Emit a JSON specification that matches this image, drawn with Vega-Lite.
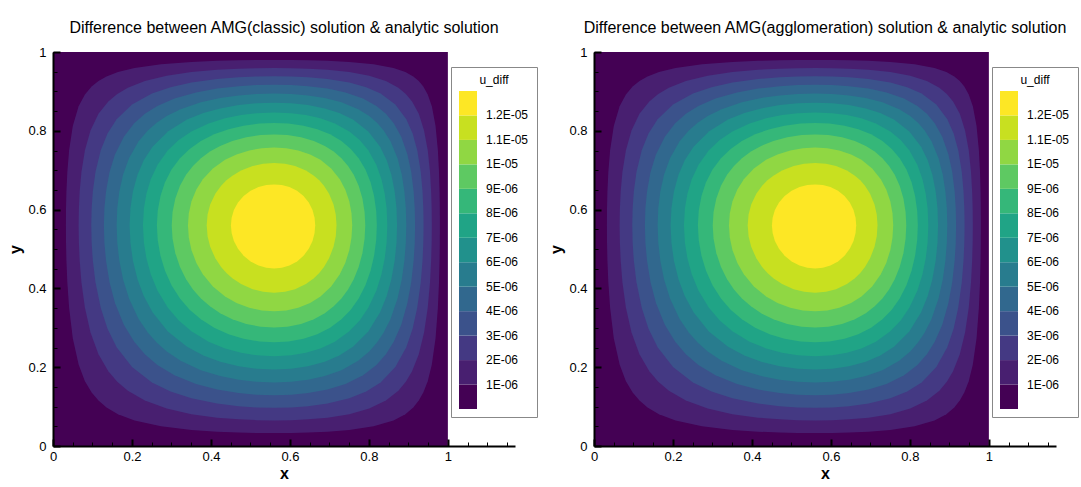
{
"$schema": "https://vega.github.io/schema/vega-lite/v6.json",
"background": "white",
"padding": {"left": 7, "top": 20, "right": 5, "bottom": 5},
"config": {"font": "Liberation Sans", "view": {"stroke": null}},
"datasets": {"field": [
{"u":0,"x":0,"lo":0,"hi":1},{"u":0,"x":1,"lo":0,"hi":1},
{"u":1e-6,"x":0.0327,"lo":0.56,"hi":0.56},{"u":1e-6,"x":0.0330,"lo":0.5158,"hi":0.6033},{"u":1e-6,"x":0.0340,"lo":0.4703,"hi":0.6460},{"u":1e-6,"x":0.0363,"lo":0.4156,"hi":0.6952},{"u":1e-6,"x":0.0408,"lo":0.3506,"hi":0.7504},{"u":1e-6,"x":0.0501,"lo":0.2736,"hi":0.8119},{"u":1e-6,"x":0.0649,"lo":0.2066,"hi":0.8623},{"u":1e-6,"x":0.0809,"lo":0.1645,"hi":0.8924},{"u":1e-6,"x":0.0979,"lo":0.1356,"hi":0.9124},{"u":1e-6,"x":0.1152,"lo":0.1152,"hi":0.9263},{"u":1e-6,"x":0.1356,"lo":0.0979,"hi":0.9378},{"u":1e-6,"x":0.1645,"lo":0.0809,"hi":0.9490},{"u":1e-6,"x":0.2066,"lo":0.0649,"hi":0.9594},{"u":1e-6,"x":0.2736,"lo":0.0501,"hi":0.9688},{"u":1e-6,"x":0.3506,"lo":0.0408,"hi":0.9747},{"u":1e-6,"x":0.4156,"lo":0.0363,"hi":0.9776},{"u":1e-6,"x":0.4703,"lo":0.0340,"hi":0.9790},{"u":1e-6,"x":0.5158,"lo":0.0330,"hi":0.9796},{"u":1e-6,"x":0.56,"lo":0.0327,"hi":0.9798},{"u":1e-6,"x":0.6033,"lo":0.0330,"hi":0.9796},{"u":1e-6,"x":0.6460,"lo":0.0340,"hi":0.9790},{"u":1e-6,"x":0.6952,"lo":0.0363,"hi":0.9776},{"u":1e-6,"x":0.7504,"lo":0.0408,"hi":0.9747},{"u":1e-6,"x":0.8119,"lo":0.0501,"hi":0.9688},{"u":1e-6,"x":0.8623,"lo":0.0649,"hi":0.9594},{"u":1e-6,"x":0.8924,"lo":0.0809,"hi":0.9490},{"u":1e-6,"x":0.9124,"lo":0.0979,"hi":0.9378},{"u":1e-6,"x":0.9263,"lo":0.1152,"hi":0.9263},{"u":1e-6,"x":0.9378,"lo":0.1356,"hi":0.9124},{"u":1e-6,"x":0.9490,"lo":0.1645,"hi":0.8924},{"u":1e-6,"x":0.9594,"lo":0.2066,"hi":0.8623},{"u":1e-6,"x":0.9688,"lo":0.2736,"hi":0.8119},{"u":1e-6,"x":0.9747,"lo":0.3506,"hi":0.7504},{"u":1e-6,"x":0.9776,"lo":0.4156,"hi":0.6952},{"u":1e-6,"x":0.9790,"lo":0.4703,"hi":0.6460},{"u":1e-6,"x":0.9796,"lo":0.5158,"hi":0.6033},{"u":1e-6,"x":0.9798,"lo":0.56,"hi":0.56},
{"u":2e-6,"x":0.0649,"lo":0.56,"hi":0.56},{"u":2e-6,"x":0.0656,"lo":0.5158,"hi":0.6033},{"u":2e-6,"x":0.0676,"lo":0.4703,"hi":0.6460},{"u":2e-6,"x":0.0720,"lo":0.4156,"hi":0.6952},{"u":2e-6,"x":0.0809,"lo":0.3506,"hi":0.7504},{"u":2e-6,"x":0.0950,"lo":0.2880,"hi":0.8008},{"u":2e-6,"x":0.1152,"lo":0.2327,"hi":0.8430},{"u":2e-6,"x":0.1401,"lo":0.1896,"hi":0.8746},{"u":2e-6,"x":0.1628,"lo":0.1628,"hi":0.8935},{"u":2e-6,"x":0.1896,"lo":0.1401,"hi":0.9093},{"u":2e-6,"x":0.2327,"lo":0.1152,"hi":0.9263},{"u":2e-6,"x":0.2880,"lo":0.0950,"hi":0.9397},{"u":2e-6,"x":0.3506,"lo":0.0809,"hi":0.9490},{"u":2e-6,"x":0.4156,"lo":0.0720,"hi":0.9548},{"u":2e-6,"x":0.4703,"lo":0.0676,"hi":0.9576},{"u":2e-6,"x":0.5158,"lo":0.0656,"hi":0.9589},{"u":2e-6,"x":0.56,"lo":0.0649,"hi":0.9594},{"u":2e-6,"x":0.6033,"lo":0.0656,"hi":0.9589},{"u":2e-6,"x":0.6460,"lo":0.0676,"hi":0.9576},{"u":2e-6,"x":0.6952,"lo":0.0720,"hi":0.9548},{"u":2e-6,"x":0.7504,"lo":0.0809,"hi":0.9490},{"u":2e-6,"x":0.8008,"lo":0.0950,"hi":0.9397},{"u":2e-6,"x":0.8430,"lo":0.1152,"hi":0.9263},{"u":2e-6,"x":0.8746,"lo":0.1401,"hi":0.9093},{"u":2e-6,"x":0.8935,"lo":0.1628,"hi":0.8935},{"u":2e-6,"x":0.9093,"lo":0.1896,"hi":0.8746},{"u":2e-6,"x":0.9263,"lo":0.2327,"hi":0.8430},{"u":2e-6,"x":0.9397,"lo":0.2880,"hi":0.8008},{"u":2e-6,"x":0.9490,"lo":0.3506,"hi":0.7504},{"u":2e-6,"x":0.9548,"lo":0.4156,"hi":0.6952},{"u":2e-6,"x":0.9576,"lo":0.4703,"hi":0.6460},{"u":2e-6,"x":0.9589,"lo":0.5158,"hi":0.6033},{"u":2e-6,"x":0.9594,"lo":0.56,"hi":0.56},
{"u":3e-6,"x":0.0969,"lo":0.56,"hi":0.56},{"u":3e-6,"x":0.0979,"lo":0.5158,"hi":0.6033},{"u":3e-6,"x":0.1009,"lo":0.4703,"hi":0.6460},{"u":3e-6,"x":0.1076,"lo":0.4156,"hi":0.6952},{"u":3e-6,"x":0.1209,"lo":0.3506,"hi":0.7504},{"u":3e-6,"x":0.1381,"lo":0.2977,"hi":0.7931},{"u":3e-6,"x":0.1612,"lo":0.2506,"hi":0.8296},{"u":3e-6,"x":0.2002,"lo":0.2002,"hi":0.8669},{"u":3e-6,"x":0.2506,"lo":0.1612,"hi":0.8947},{"u":3e-6,"x":0.2977,"lo":0.1381,"hi":0.9107},{"u":3e-6,"x":0.3506,"lo":0.1209,"hi":0.9224},{"u":3e-6,"x":0.4156,"lo":0.1076,"hi":0.9314},{"u":3e-6,"x":0.4703,"lo":0.1009,"hi":0.9358},{"u":3e-6,"x":0.5158,"lo":0.0979,"hi":0.9378},{"u":3e-6,"x":0.56,"lo":0.0969,"hi":0.9385},{"u":3e-6,"x":0.6033,"lo":0.0979,"hi":0.9378},{"u":3e-6,"x":0.6460,"lo":0.1009,"hi":0.9358},{"u":3e-6,"x":0.6952,"lo":0.1076,"hi":0.9314},{"u":3e-6,"x":0.7504,"lo":0.1209,"hi":0.9224},{"u":3e-6,"x":0.7931,"lo":0.1381,"hi":0.9107},{"u":3e-6,"x":0.8296,"lo":0.1612,"hi":0.8947},{"u":3e-6,"x":0.8669,"lo":0.2002,"hi":0.8669},{"u":3e-6,"x":0.8947,"lo":0.2506,"hi":0.8296},{"u":3e-6,"x":0.9107,"lo":0.2977,"hi":0.7931},{"u":3e-6,"x":0.9224,"lo":0.3506,"hi":0.7504},{"u":3e-6,"x":0.9314,"lo":0.4156,"hi":0.6952},{"u":3e-6,"x":0.9358,"lo":0.4703,"hi":0.6460},{"u":3e-6,"x":0.9378,"lo":0.5158,"hi":0.6033},{"u":3e-6,"x":0.9385,"lo":0.56,"hi":0.56},
{"u":4e-6,"x":0.1289,"lo":0.56,"hi":0.56},{"u":4e-6,"x":0.1302,"lo":0.5158,"hi":0.6033},{"u":4e-6,"x":0.1343,"lo":0.4703,"hi":0.6460},{"u":4e-6,"x":0.1432,"lo":0.4156,"hi":0.6952},{"u":4e-6,"x":0.1572,"lo":0.3623,"hi":0.7407},{"u":4e-6,"x":0.1794,"lo":0.3077,"hi":0.7852},{"u":4e-6,"x":0.2057,"lo":0.2643,"hi":0.8191},{"u":4e-6,"x":0.2327,"lo":0.2327,"hi":0.8430},{"u":4e-6,"x":0.2643,"lo":0.2057,"hi":0.8629},{"u":4e-6,"x":0.3077,"lo":0.1794,"hi":0.8819},{"u":4e-6,"x":0.3623,"lo":0.1572,"hi":0.8974},{"u":4e-6,"x":0.4156,"lo":0.1432,"hi":0.9072},{"u":4e-6,"x":0.4703,"lo":0.1343,"hi":0.9133},{"u":4e-6,"x":0.5158,"lo":0.1302,"hi":0.9161},{"u":4e-6,"x":0.56,"lo":0.1289,"hi":0.9170},{"u":4e-6,"x":0.6033,"lo":0.1302,"hi":0.9161},{"u":4e-6,"x":0.6460,"lo":0.1343,"hi":0.9133},{"u":4e-6,"x":0.6952,"lo":0.1432,"hi":0.9072},{"u":4e-6,"x":0.7407,"lo":0.1572,"hi":0.8974},{"u":4e-6,"x":0.7852,"lo":0.1794,"hi":0.8819},{"u":4e-6,"x":0.8191,"lo":0.2057,"hi":0.8629},{"u":4e-6,"x":0.8430,"lo":0.2327,"hi":0.8430},{"u":4e-6,"x":0.8629,"lo":0.2643,"hi":0.8191},{"u":4e-6,"x":0.8819,"lo":0.3077,"hi":0.7852},{"u":4e-6,"x":0.8974,"lo":0.3623,"hi":0.7407},{"u":4e-6,"x":0.9072,"lo":0.4156,"hi":0.6952},{"u":4e-6,"x":0.9133,"lo":0.4703,"hi":0.6460},{"u":4e-6,"x":0.9161,"lo":0.5158,"hi":0.6033},{"u":4e-6,"x":0.9170,"lo":0.56,"hi":0.56},
{"u":5e-6,"x":0.1612,"lo":0.56,"hi":0.56},{"u":5e-6,"x":0.1628,"lo":0.5158,"hi":0.6033},{"u":5e-6,"x":0.1680,"lo":0.4703,"hi":0.6460},{"u":5e-6,"x":0.1774,"lo":0.4234,"hi":0.6883},{"u":5e-6,"x":0.1925,"lo":0.3745,"hi":0.7305},{"u":5e-6,"x":0.2164,"lo":0.3232,"hi":0.7728},{"u":5e-6,"x":0.2401,"lo":0.2880,"hi":0.8008},{"u":5e-6,"x":0.2626,"lo":0.2626,"hi":0.8205},{"u":5e-6,"x":0.2880,"lo":0.2401,"hi":0.8375},{"u":5e-6,"x":0.3232,"lo":0.2164,"hi":0.8550},{"u":5e-6,"x":0.3745,"lo":0.1925,"hi":0.8725},{"u":5e-6,"x":0.4234,"lo":0.1774,"hi":0.8833},{"u":5e-6,"x":0.4703,"lo":0.1680,"hi":0.8899},{"u":5e-6,"x":0.5158,"lo":0.1628,"hi":0.8935},{"u":5e-6,"x":0.56,"lo":0.1612,"hi":0.8947},{"u":5e-6,"x":0.6033,"lo":0.1628,"hi":0.8935},{"u":5e-6,"x":0.6460,"lo":0.1680,"hi":0.8899},{"u":5e-6,"x":0.6883,"lo":0.1774,"hi":0.8833},{"u":5e-6,"x":0.7305,"lo":0.1925,"hi":0.8725},{"u":5e-6,"x":0.7728,"lo":0.2164,"hi":0.8550},{"u":5e-6,"x":0.8008,"lo":0.2401,"hi":0.8375},{"u":5e-6,"x":0.8205,"lo":0.2626,"hi":0.8205},{"u":5e-6,"x":0.8375,"lo":0.2880,"hi":0.8008},{"u":5e-6,"x":0.8550,"lo":0.3232,"hi":0.7728},{"u":5e-6,"x":0.8725,"lo":0.3745,"hi":0.7305},{"u":5e-6,"x":0.8833,"lo":0.4234,"hi":0.6883},{"u":5e-6,"x":0.8899,"lo":0.4703,"hi":0.6460},{"u":5e-6,"x":0.8935,"lo":0.5158,"hi":0.6033},{"u":5e-6,"x":0.8947,"lo":0.56,"hi":0.56},
{"u":6e-6,"x":0.1940,"lo":0.56,"hi":0.56},{"u":6e-6,"x":0.1961,"lo":0.5158,"hi":0.6033},{"u":6e-6,"x":0.2024,"lo":0.4703,"hi":0.6460},{"u":6e-6,"x":0.2140,"lo":0.4234,"hi":0.6883},{"u":6e-6,"x":0.2299,"lo":0.3808,"hi":0.7251},{"u":6e-6,"x":0.2521,"lo":0.3394,"hi":0.7597},{"u":6e-6,"x":0.2909,"lo":0.2909,"hi":0.7985},{"u":6e-6,"x":0.3394,"lo":0.2521,"hi":0.8284},{"u":6e-6,"x":0.3808,"lo":0.2299,"hi":0.8451},{"u":6e-6,"x":0.4234,"lo":0.2140,"hi":0.8569},{"u":6e-6,"x":0.4703,"lo":0.2024,"hi":0.8653},{"u":6e-6,"x":0.5158,"lo":0.1961,"hi":0.8699},{"u":6e-6,"x":0.56,"lo":0.1940,"hi":0.8713},{"u":6e-6,"x":0.6033,"lo":0.1961,"hi":0.8699},{"u":6e-6,"x":0.6460,"lo":0.2024,"hi":0.8653},{"u":6e-6,"x":0.6883,"lo":0.2140,"hi":0.8569},{"u":6e-6,"x":0.7251,"lo":0.2299,"hi":0.8451},{"u":6e-6,"x":0.7597,"lo":0.2521,"hi":0.8284},{"u":6e-6,"x":0.7985,"lo":0.2909,"hi":0.7985},{"u":6e-6,"x":0.8284,"lo":0.3394,"hi":0.7597},{"u":6e-6,"x":0.8451,"lo":0.3808,"hi":0.7251},{"u":6e-6,"x":0.8569,"lo":0.4234,"hi":0.6883},{"u":6e-6,"x":0.8653,"lo":0.4703,"hi":0.6460},{"u":6e-6,"x":0.8699,"lo":0.5158,"hi":0.6033},{"u":6e-6,"x":0.8713,"lo":0.56,"hi":0.56},
{"u":7e-6,"x":0.2278,"lo":0.56,"hi":0.56},{"u":7e-6,"x":0.2303,"lo":0.5158,"hi":0.6033},{"u":7e-6,"x":0.2366,"lo":0.4763,"hi":0.6405},{"u":7e-6,"x":0.2476,"lo":0.4358,"hi":0.6773},{"u":7e-6,"x":0.2648,"lo":0.3940,"hi":0.7138},{"u":7e-6,"x":0.2910,"lo":0.3506,"hi":0.7504},{"u":7e-6,"x":0.3185,"lo":0.3185,"hi":0.7766},{"u":7e-6,"x":0.3506,"lo":0.2910,"hi":0.7984},{"u":7e-6,"x":0.3940,"lo":0.2648,"hi":0.8188},{"u":7e-6,"x":0.4358,"lo":0.2476,"hi":0.8318},{"u":7e-6,"x":0.4763,"lo":0.2366,"hi":0.8401},{"u":7e-6,"x":0.5158,"lo":0.2303,"hi":0.8448},{"u":7e-6,"x":0.56,"lo":0.2278,"hi":0.8466},{"u":7e-6,"x":0.6033,"lo":0.2303,"hi":0.8448},{"u":7e-6,"x":0.6405,"lo":0.2366,"hi":0.8401},{"u":7e-6,"x":0.6773,"lo":0.2476,"hi":0.8318},{"u":7e-6,"x":0.7138,"lo":0.2648,"hi":0.8188},{"u":7e-6,"x":0.7504,"lo":0.2910,"hi":0.7984},{"u":7e-6,"x":0.7766,"lo":0.3185,"hi":0.7766},{"u":7e-6,"x":0.7984,"lo":0.3506,"hi":0.7504},{"u":7e-6,"x":0.8188,"lo":0.3940,"hi":0.7138},{"u":7e-6,"x":0.8318,"lo":0.4358,"hi":0.6773},{"u":7e-6,"x":0.8401,"lo":0.4763,"hi":0.6405},{"u":7e-6,"x":0.8448,"lo":0.5158,"hi":0.6033},{"u":7e-6,"x":0.8466,"lo":0.56,"hi":0.56},
{"u":8e-6,"x":0.2631,"lo":0.56,"hi":0.56},{"u":8e-6,"x":0.2652,"lo":0.5231,"hi":0.5963},{"u":8e-6,"x":0.2722,"lo":0.4826,"hi":0.6346},{"u":8e-6,"x":0.2837,"lo":0.4447,"hi":0.6693},{"u":8e-6,"x":0.3002,"lo":0.4081,"hi":0.7017},{"u":8e-6,"x":0.3216,"lo":0.3745,"hi":0.7305},{"u":8e-6,"x":0.3461,"lo":0.3461,"hi":0.7541},{"u":8e-6,"x":0.3745,"lo":0.3216,"hi":0.7741},{"u":8e-6,"x":0.4081,"lo":0.3002,"hi":0.7912},{"u":8e-6,"x":0.4447,"lo":0.2837,"hi":0.8042},{"u":8e-6,"x":0.4826,"lo":0.2722,"hi":0.8131},{"u":8e-6,"x":0.5231,"lo":0.2652,"hi":0.8185},{"u":8e-6,"x":0.56,"lo":0.2631,"hi":0.8200},{"u":8e-6,"x":0.5963,"lo":0.2652,"hi":0.8185},{"u":8e-6,"x":0.6346,"lo":0.2722,"hi":0.8131},{"u":8e-6,"x":0.6693,"lo":0.2837,"hi":0.8042},{"u":8e-6,"x":0.7017,"lo":0.3002,"hi":0.7912},{"u":8e-6,"x":0.7305,"lo":0.3216,"hi":0.7741},{"u":8e-6,"x":0.7541,"lo":0.3461,"hi":0.7541},{"u":8e-6,"x":0.7741,"lo":0.3745,"hi":0.7305},{"u":8e-6,"x":0.7912,"lo":0.4081,"hi":0.7017},{"u":8e-6,"x":0.8042,"lo":0.4447,"hi":0.6693},{"u":8e-6,"x":0.8131,"lo":0.4826,"hi":0.6346},{"u":8e-6,"x":0.8185,"lo":0.5231,"hi":0.5963},{"u":8e-6,"x":0.8200,"lo":0.56,"hi":0.56},
{"u":9e-6,"x":0.3007,"lo":0.56,"hi":0.56},{"u":9e-6,"x":0.3028,"lo":0.5258,"hi":0.5936},{"u":9e-6,"x":0.3098,"lo":0.4895,"hi":0.6282},{"u":9e-6,"x":0.3216,"lo":0.4543,"hi":0.6607},{"u":9e-6,"x":0.3370,"lo":0.4234,"hi":0.6883},{"u":9e-6,"x":0.3545,"lo":0.3975,"hi":0.7109},{"u":9e-6,"x":0.3746,"lo":0.3746,"hi":0.7304},{"u":9e-6,"x":0.3975,"lo":0.3545,"hi":0.7472},{"u":9e-6,"x":0.4234,"lo":0.3370,"hi":0.7616},{"u":9e-6,"x":0.4543,"lo":0.3216,"hi":0.7741},{"u":9e-6,"x":0.4895,"lo":0.3098,"hi":0.7836},{"u":9e-6,"x":0.5258,"lo":0.3028,"hi":0.7891},{"u":9e-6,"x":0.56,"lo":0.3007,"hi":0.7908},{"u":9e-6,"x":0.5936,"lo":0.3028,"hi":0.7891},{"u":9e-6,"x":0.6282,"lo":0.3098,"hi":0.7836},{"u":9e-6,"x":0.6607,"lo":0.3216,"hi":0.7741},{"u":9e-6,"x":0.6883,"lo":0.3370,"hi":0.7616},{"u":9e-6,"x":0.7109,"lo":0.3545,"hi":0.7472},{"u":9e-6,"x":0.7304,"lo":0.3746,"hi":0.7304},{"u":9e-6,"x":0.7472,"lo":0.3975,"hi":0.7109},{"u":9e-6,"x":0.7616,"lo":0.4234,"hi":0.6883},{"u":9e-6,"x":0.7741,"lo":0.4543,"hi":0.6607},{"u":9e-6,"x":0.7836,"lo":0.4895,"hi":0.6282},{"u":9e-6,"x":0.7891,"lo":0.5258,"hi":0.5936},{"u":9e-6,"x":0.7908,"lo":0.56,"hi":0.56},
{"u":1e-5,"x":0.3418,"lo":0.56,"hi":0.56},{"u":1e-5,"x":0.3440,"lo":0.5288,"hi":0.5907},{"u":1e-5,"x":0.3508,"lo":0.4971,"hi":0.6211},{"u":1e-5,"x":0.3631,"lo":0.4647,"hi":0.6512},{"u":1e-5,"x":0.3795,"lo":0.4358,"hi":0.6773},{"u":1e-5,"x":0.4050,"lo":0.4050,"hi":0.7044},{"u":1e-5,"x":0.4358,"lo":0.3795,"hi":0.7263},{"u":1e-5,"x":0.4647,"lo":0.3631,"hi":0.7401},{"u":1e-5,"x":0.4971,"lo":0.3508,"hi":0.7503},{"u":1e-5,"x":0.5288,"lo":0.3440,"hi":0.7559},{"u":1e-5,"x":0.56,"lo":0.3418,"hi":0.7577},{"u":1e-5,"x":0.5907,"lo":0.3440,"hi":0.7559},{"u":1e-5,"x":0.6211,"lo":0.3508,"hi":0.7503},{"u":1e-5,"x":0.6512,"lo":0.3631,"hi":0.7401},{"u":1e-5,"x":0.6773,"lo":0.3795,"hi":0.7263},{"u":1e-5,"x":0.7044,"lo":0.4050,"hi":0.7044},{"u":1e-5,"x":0.7263,"lo":0.4358,"hi":0.6773},{"u":1e-5,"x":0.7401,"lo":0.4647,"hi":0.6512},{"u":1e-5,"x":0.7503,"lo":0.4971,"hi":0.6211},{"u":1e-5,"x":0.7559,"lo":0.5288,"hi":0.5907},{"u":1e-5,"x":0.7577,"lo":0.56,"hi":0.56},
{"u":1.1e-5,"x":0.3892,"lo":0.56,"hi":0.56},{"u":1.1e-5,"x":0.3915,"lo":0.5321,"hi":0.5875},{"u":1.1e-5,"x":0.3981,"lo":0.5057,"hi":0.6130},{"u":1.1e-5,"x":0.4111,"lo":0.4763,"hi":0.6405},{"u":1.1e-5,"x":0.4258,"lo":0.4543,"hi":0.6607},{"u":1.1e-5,"x":0.4392,"lo":0.4392,"hi":0.6743},{"u":1.1e-5,"x":0.4543,"lo":0.4258,"hi":0.6862},{"u":1.1e-5,"x":0.4763,"lo":0.4111,"hi":0.6991},{"u":1.1e-5,"x":0.5057,"lo":0.3981,"hi":0.7104},{"u":1.1e-5,"x":0.5321,"lo":0.3915,"hi":0.7161},{"u":1.1e-5,"x":0.56,"lo":0.3892,"hi":0.7180},{"u":1.1e-5,"x":0.5875,"lo":0.3915,"hi":0.7161},{"u":1.1e-5,"x":0.6130,"lo":0.3981,"hi":0.7104},{"u":1.1e-5,"x":0.6405,"lo":0.4111,"hi":0.6991},{"u":1.1e-5,"x":0.6607,"lo":0.4258,"hi":0.6862},{"u":1.1e-5,"x":0.6743,"lo":0.4392,"hi":0.6743},{"u":1.1e-5,"x":0.6862,"lo":0.4543,"hi":0.6607},{"u":1.1e-5,"x":0.6991,"lo":0.4763,"hi":0.6405},{"u":1.1e-5,"x":0.7104,"lo":0.5057,"hi":0.6130},{"u":1.1e-5,"x":0.7161,"lo":0.5321,"hi":0.5875},{"u":1.1e-5,"x":0.7180,"lo":0.56,"hi":0.56},
{"u":1.2e-5,"x":0.4506,"lo":0.56,"hi":0.56},{"u":1.2e-5,"x":0.4524,"lo":0.5403,"hi":0.5795},{"u":1.2e-5,"x":0.4581,"lo":0.5205,"hi":0.5988},{"u":1.2e-5,"x":0.4685,"lo":0.5004,"hi":0.6180},{"u":1.2e-5,"x":0.4828,"lo":0.4828,"hi":0.6345},{"u":1.2e-5,"x":0.5004,"lo":0.4685,"hi":0.6477},{"u":1.2e-5,"x":0.5205,"lo":0.4581,"hi":0.6572},{"u":1.2e-5,"x":0.5403,"lo":0.4524,"hi":0.6624},{"u":1.2e-5,"x":0.56,"lo":0.4506,"hi":0.6640},{"u":1.2e-5,"x":0.5795,"lo":0.4524,"hi":0.6624},{"u":1.2e-5,"x":0.5988,"lo":0.4581,"hi":0.6572},{"u":1.2e-5,"x":0.6180,"lo":0.4685,"hi":0.6477},{"u":1.2e-5,"x":0.6345,"lo":0.4828,"hi":0.6345},{"u":1.2e-5,"x":0.6477,"lo":0.5004,"hi":0.6180},{"u":1.2e-5,"x":0.6572,"lo":0.5205,"hi":0.5988},{"u":1.2e-5,"x":0.6624,"lo":0.5403,"hi":0.5795},{"u":1.2e-5,"x":0.6640,"lo":0.56,"hi":0.56}
]},
"spacing": 79,
"bounds": "flush",
"resolve": {"scale": {"color": "independent", "x": "independent", "y": "independent"}, "legend": {"color": "independent"}},
"hconcat": [
{
"width": 462, "height": 394,
"title": {"text": "Difference between AMG(classic) solution & analytic solution", "fontSize": 16, "fontWeight": "normal", "color": "black", "anchor": "middle", "frame": "group", "offset": 10},
"data": {"name": "field"},
"resolve": {"axis": {"x": "independent", "y": "independent"}},
"layer": [
{"transform": [{"filter": "datum.u == 0"}],
"mark": {"type": "area", "orient": "vertical"},
"encoding": {
"x": {"field": "x", "type": "quantitative", "scale": {"domain": [0, 1.17], "nice": false, "zero": false}, "axis": {"orient": "bottom", "values": [0.05,0.1,0.15,0.25,0.3,0.35,0.45,0.5,0.55,0.65,0.7,0.75,0.85,0.9,0.95,1.05,1.1,1.15], "labels": false, "domain": false, "grid": false, "title": null, "tickSize": -4, "tickWidth": 1, "tickColor": "black", "zindex": 1}},
"y": {"field": "hi", "type": "quantitative", "stack": null, "scale": {"domain": [0, 1], "nice": false, "zero": false}, "axis": {"orient": "left", "values": [0.05,0.1,0.15,0.25,0.3,0.35,0.45,0.5,0.55,0.65,0.7,0.75,0.85,0.9,0.95], "labels": false, "domain": false, "grid": false, "title": null, "tickSize": -4, "tickWidth": 1, "tickColor": "black", "zindex": 1}},
"y2": {"field": "lo"},
"detail": {"field": "u", "type": "nominal"},
"color": {"field": "u", "type": "quantitative", "scale": {"type": "threshold", "domain": [1e-6,2e-6,3e-6,4e-6,5e-6,6e-6,7e-6,8e-6,9e-6,1e-5,1.1e-5,1.2e-5], "range": ["#440154","#481f70","#443983","#3b528b","#31688e","#287c8e","#21918c","#20a486","#35b779","#5ec962","#90d743","#c8e020","#fde725"]},
"legend": {"type": "gradient", "title": "u_diff", "orient": "none", "legendX": 398, "legendY": 15, "direction": "vertical", "gradientLength": 318, "gradientThickness": 18, "gradientStrokeWidth": 0, "labelExpr": "isFinite(datum.value) ? (datum.value >= 0.00001 ? format(datum.value*100000, '~g') + 'E-05' : format(datum.value*1000000, '~g') + 'E-06') : ''", "labelFontSize": 12, "labelColor": "black", "labelOffset": 9, "labelOverlap": false, "titleFontSize": 12, "titleFontWeight": "normal", "titleColor": "black", "titleAnchor": "middle", "titlePadding": 4, "padding": 8, "fillColor": "white", "strokeColor": "#888888", "zindex": 2}}
}},
{"transform": [{"filter": "datum.u > 0"}],
"mark": {"type": "area", "orient": "vertical"},
"encoding": {
"x": {"field": "x", "type": "quantitative", "scale": {"domain": [0, 1.17], "nice": false, "zero": false}, "axis": {"orient": "bottom", "values": [0,0.2,0.4,0.6,0.8,1], "format": "~g", "title": "x", "grid": false, "tickSize": -7, "tickWidth": 2, "tickColor": "black", "domainColor": "black", "domainWidth": 2, "labelFontSize": 13, "labelColor": "black", "labelPadding": 11, "labelFlush": false, "labelOverlap": false, "titleFontSize": 16, "titleFontWeight": "bold", "titleColor": "black", "titlePadding": 2, "zindex": 1}},
"y": {"field": "hi", "type": "quantitative", "stack": null, "scale": {"domain": [0, 1], "nice": false, "zero": false}, "axis": {"orient": "left", "values": [0,0.2,0.4,0.6,0.8,1], "format": "~g", "title": "y", "grid": false, "tickSize": -7, "tickWidth": 2, "tickColor": "black", "domainColor": "black", "domainWidth": 2, "labelFontSize": 13, "labelColor": "black", "labelPadding": 14, "labelOverlap": false, "titleFontSize": 16, "titleFontWeight": "bold", "titleColor": "black", "titlePadding": 4, "zindex": 1}},
"y2": {"field": "lo"},
"detail": {"field": "u", "type": "nominal"},
"color": {"field": "u", "type": "quantitative", "scale": {"type": "threshold", "domain": [1e-6,2e-6,3e-6,4e-6,5e-6,6e-6,7e-6,8e-6,9e-6,1e-5,1.1e-5,1.2e-5], "range": ["#440154","#481f70","#443983","#3b528b","#31688e","#287c8e","#21918c","#20a486","#35b779","#5ec962","#90d743","#c8e020","#fde725"]},
"legend": {"type": "gradient", "title": "u_diff", "orient": "none", "legendX": 398, "legendY": 15, "direction": "vertical", "gradientLength": 318, "gradientThickness": 18, "gradientStrokeWidth": 0, "labelExpr": "isFinite(datum.value) ? (datum.value >= 0.00001 ? format(datum.value*100000, '~g') + 'E-05' : format(datum.value*1000000, '~g') + 'E-06') : ''", "labelFontSize": 12, "labelColor": "black", "labelOffset": 9, "labelOverlap": false, "titleFontSize": 12, "titleFontWeight": "normal", "titleColor": "black", "titleAnchor": "middle", "titlePadding": 4, "padding": 8, "fillColor": "white", "strokeColor": "#888888", "zindex": 2}}
}}
]
},
{
"width": 462, "height": 394,
"title": {"text": "Difference between AMG(agglomeration) solution & analytic solution", "fontSize": 16, "fontWeight": "normal", "color": "black", "anchor": "middle", "frame": "group", "offset": 10},
"data": {"name": "field"},
"resolve": {"axis": {"x": "independent", "y": "independent"}},
"layer": [
{"transform": [{"filter": "datum.u == 0"}],
"mark": {"type": "area", "orient": "vertical"},
"encoding": {
"x": {"field": "x", "type": "quantitative", "scale": {"domain": [0, 1.17], "nice": false, "zero": false}, "axis": {"orient": "bottom", "values": [0.05,0.1,0.15,0.25,0.3,0.35,0.45,0.5,0.55,0.65,0.7,0.75,0.85,0.9,0.95,1.05,1.1,1.15], "labels": false, "domain": false, "grid": false, "title": null, "tickSize": -4, "tickWidth": 1, "tickColor": "black", "zindex": 1}},
"y": {"field": "hi", "type": "quantitative", "stack": null, "scale": {"domain": [0, 1], "nice": false, "zero": false}, "axis": {"orient": "left", "values": [0.05,0.1,0.15,0.25,0.3,0.35,0.45,0.5,0.55,0.65,0.7,0.75,0.85,0.9,0.95], "labels": false, "domain": false, "grid": false, "title": null, "tickSize": -4, "tickWidth": 1, "tickColor": "black", "zindex": 1}},
"y2": {"field": "lo"},
"detail": {"field": "u", "type": "nominal"},
"color": {"field": "u", "type": "quantitative", "scale": {"type": "threshold", "domain": [1e-6,2e-6,3e-6,4e-6,5e-6,6e-6,7e-6,8e-6,9e-6,1e-5,1.1e-5,1.2e-5], "range": ["#440154","#481f70","#443983","#3b528b","#31688e","#287c8e","#21918c","#20a486","#35b779","#5ec962","#90d743","#c8e020","#fde725"]},
"legend": {"type": "gradient", "title": "u_diff", "orient": "none", "legendX": 398, "legendY": 15, "direction": "vertical", "gradientLength": 318, "gradientThickness": 18, "gradientStrokeWidth": 0, "labelExpr": "isFinite(datum.value) ? (datum.value >= 0.00001 ? format(datum.value*100000, '~g') + 'E-05' : format(datum.value*1000000, '~g') + 'E-06') : ''", "labelFontSize": 12, "labelColor": "black", "labelOffset": 9, "labelOverlap": false, "titleFontSize": 12, "titleFontWeight": "normal", "titleColor": "black", "titleAnchor": "middle", "titlePadding": 4, "padding": 8, "fillColor": "white", "strokeColor": "#888888", "zindex": 2}}
}},
{"transform": [{"filter": "datum.u > 0"}],
"mark": {"type": "area", "orient": "vertical"},
"encoding": {
"x": {"field": "x", "type": "quantitative", "scale": {"domain": [0, 1.17], "nice": false, "zero": false}, "axis": {"orient": "bottom", "values": [0,0.2,0.4,0.6,0.8,1], "format": "~g", "title": "x", "grid": false, "tickSize": -7, "tickWidth": 2, "tickColor": "black", "domainColor": "black", "domainWidth": 2, "labelFontSize": 13, "labelColor": "black", "labelPadding": 11, "labelFlush": false, "labelOverlap": false, "titleFontSize": 16, "titleFontWeight": "bold", "titleColor": "black", "titlePadding": 2, "zindex": 1}},
"y": {"field": "hi", "type": "quantitative", "stack": null, "scale": {"domain": [0, 1], "nice": false, "zero": false}, "axis": {"orient": "left", "values": [0,0.2,0.4,0.6,0.8,1], "format": "~g", "title": "y", "grid": false, "tickSize": -7, "tickWidth": 2, "tickColor": "black", "domainColor": "black", "domainWidth": 2, "labelFontSize": 13, "labelColor": "black", "labelPadding": 14, "labelOverlap": false, "titleFontSize": 16, "titleFontWeight": "bold", "titleColor": "black", "titlePadding": 4, "zindex": 1}},
"y2": {"field": "lo"},
"detail": {"field": "u", "type": "nominal"},
"color": {"field": "u", "type": "quantitative", "scale": {"type": "threshold", "domain": [1e-6,2e-6,3e-6,4e-6,5e-6,6e-6,7e-6,8e-6,9e-6,1e-5,1.1e-5,1.2e-5], "range": ["#440154","#481f70","#443983","#3b528b","#31688e","#287c8e","#21918c","#20a486","#35b779","#5ec962","#90d743","#c8e020","#fde725"]},
"legend": {"type": "gradient", "title": "u_diff", "orient": "none", "legendX": 398, "legendY": 15, "direction": "vertical", "gradientLength": 318, "gradientThickness": 18, "gradientStrokeWidth": 0, "labelExpr": "isFinite(datum.value) ? (datum.value >= 0.00001 ? format(datum.value*100000, '~g') + 'E-05' : format(datum.value*1000000, '~g') + 'E-06') : ''", "labelFontSize": 12, "labelColor": "black", "labelOffset": 9, "labelOverlap": false, "titleFontSize": 12, "titleFontWeight": "normal", "titleColor": "black", "titleAnchor": "middle", "titlePadding": 4, "padding": 8, "fillColor": "white", "strokeColor": "#888888", "zindex": 2}}
}}
]
}
]
}
